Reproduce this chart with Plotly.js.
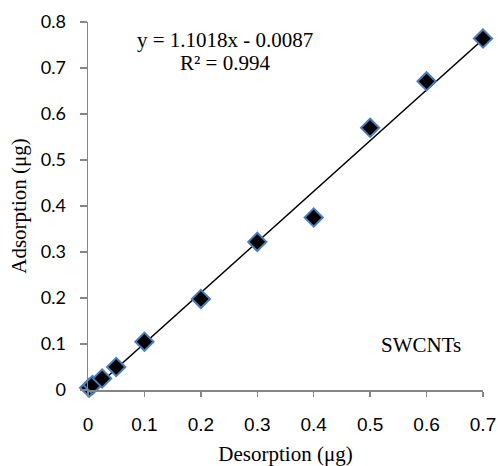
<!DOCTYPE html>
<html><head><meta charset="utf-8">
<script src="https://cdn.plot.ly/plotly-3.0.1.min.js"></script>
<style>html,body{margin:0;padding:0;background:#fff}</style>
</head><body>
<div id="chart" style="width:498px;height:466px"></div>
<script>
const desorption = [0.002, 0.008, 0.025, 0.05, 0.1, 0.2, 0.3, 0.4, 0.5, 0.6, 0.7];
const adsorption = [0.005, 0.011, 0.025, 0.05, 0.105, 0.198, 0.322, 0.375, 0.57, 0.671, 0.764];
const slope = 1.1018;
const intercept = -0.0087;
const rSquared = 0.994;
const seriesLabel = 'SWCNTs';

const xStart = -intercept / slope;
const xEnd = Math.max(...desorption);
const trendX = [xStart, xEnd];
const trendY = trendX.map(x => slope * x + intercept);

const serif = '"Liberation Serif", "Times New Roman", serif';
const data = [
  {x: trendX, y: trendY, mode: 'lines', line: {color: '#000', width: 1.5}, hoverinfo: 'skip', showlegend: false},
  {x: desorption, y: adsorption, mode: 'markers', type: 'scatter', showlegend: false, cliponaxis: false,
   marker: {symbol: 'diamond', size: 14, color: '#000', line: {color: '#4a7ebb', width: 2}}}
];
const axisBase = {showgrid: false, zeroline: false, showline: true, linecolor: '#868686', linewidth: 1.5,
  ticks: 'outside', tickcolor: '#868686', tickwidth: 1.5, automargin: false, tickangle: 0};
const layout = {
  width: 498, height: 466,
  margin: {l: 88, r: 15, t: 22, b: 76},
  paper_bgcolor: '#fff', plot_bgcolor: '#fff',
  xaxis: Object.assign({}, axisBase, {range: [0, 0.7], tick0: 0, dtick: 0.1, ticklen: 5, ticklabelstandoff: 12,
    tickfont: {family: '"Liberation Sans", Arial, sans-serif', size: 19, color: '#000'},
    title: {text: 'Desorption (μg)', font: {family: serif, size: 21, color: '#000'}, standoff: 12}}),
  yaxis: Object.assign({}, axisBase, {range: [0, 0.8], tick0: 0, dtick: 0.1, ticklen: 7, ticklabelstandoff: 10,
    tickfont: {family: 'Lato, "Open Sans", sans-serif', size: 18, color: '#000'},
    title: {text: 'Adsorption (μg)', font: {family: serif, size: 21, color: '#000'}, standoff: 8}}),
  annotations: [
    {xref: 'paper', yref: 'paper', x: 0.347, y: 0.951, text: 'y = ' + slope + 'x - ' + Math.abs(intercept),
     showarrow: false, xanchor: 'center', yanchor: 'middle', font: {family: serif, size: 21, color: '#000'}},
    {xref: 'paper', yref: 'paper', x: 0.347, y: 0.889, text: 'R² = ' + rSquared,
     showarrow: false, xanchor: 'center', yanchor: 'middle', font: {family: serif, size: 21, color: '#000'}},
    {xref: 'paper', yref: 'paper', x: 0.843, y: 0.122, text: seriesLabel, showarrow: false, xanchor: 'center', yanchor: 'middle',
     font: {family: serif, size: 21, color: '#000'}}
  ]
};
Plotly.newPlot('chart', data, layout, {displayModeBar: false, staticPlot: true});
</script>
</body></html>
